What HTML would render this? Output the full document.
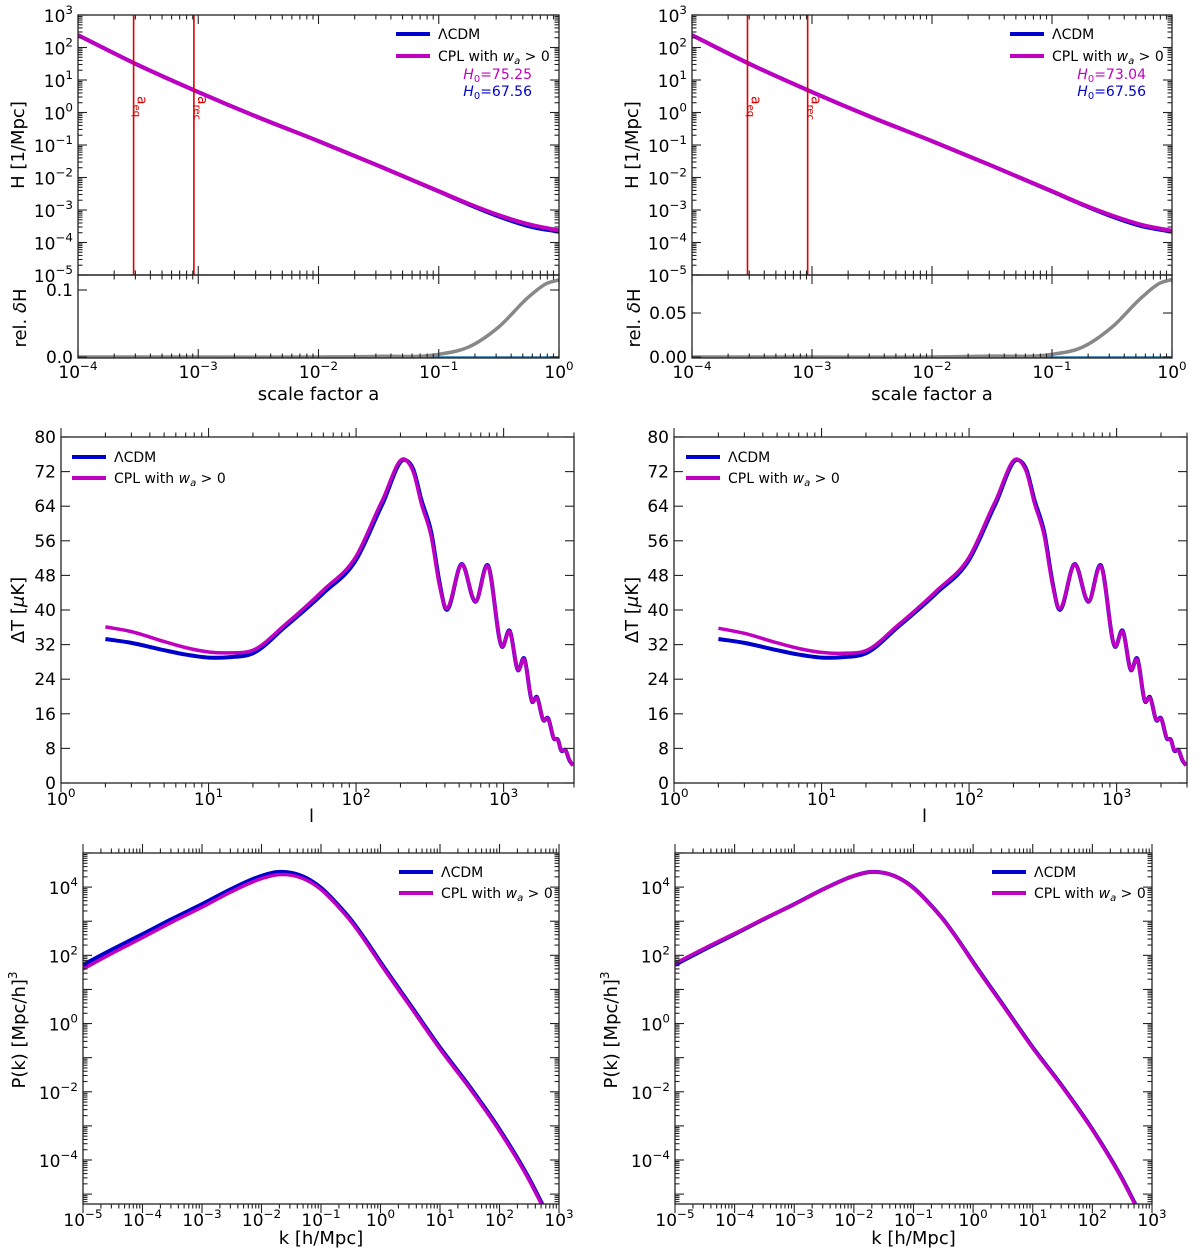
<!DOCTYPE html>
<html><head><meta charset="utf-8">
<style>
html,body{margin:0;padding:0;background:#fff;}
svg{display:block;font-family:"DejaVu Sans","Liberation Sans",sans-serif;}
</style></head>
<body>
<svg id="fig" width="1200" height="1256" viewBox="0 0 1200 1256" xmlns="http://www.w3.org/2000/svg"></svg>
<script>
// ---------- DATA ----------
const hLogA = [-4,-3.5,-3,-2.5,-2,-1.5,-1,-0.75,-0.5,-0.25,0];
const hLcdm = [2.38,1.46,0.63,-0.15,-0.88,-1.64,-2.43,-2.83,-3.2,-3.5,-3.67];
const hCplL = [2.38,1.46,0.63,-0.15,-0.88,-1.64,-2.42,-2.81,-3.16,-3.44,-3.63];
const hCplR = [2.38,1.46,0.63,-0.15,-0.88,-1.64,-2.42,-2.82,-3.17,-3.46,-3.64];
const dLogA = [-4,-3,-2,-1.5,-1,-0.75,-0.5,-0.25,-0.1,0];
const dHLeft = [0,0,0,0.001,0.004,0.015,0.045,0.09,0.11,0.115];
const dHRight = [0,0,0,0.001,0.003,0.011,0.034,0.068,0.084,0.088];
const aEq = 2.9e-4, aRec = 9.2e-4;
const h0Left = ["75.25","67.56"], h0Right = ["73.04","67.56"];
const ell = [2,3,5,7,10,14,20,33,60,100,150,215,245,277,324,365,398,525,645,783,975,1100,1250,1380,1560,1680,1860,2000,2190,2340,2450,2630,2790,2950];
const dtLcdm = [33.3,32.4,30.7,29.7,29.0,29.1,30.0,36.1,43.9,51.6,64.3,74.7,72.4,65.5,57.8,47.0,40.8,50.6,41.9,50.3,31.5,35.2,26.1,28.8,18.8,19.9,14.5,15.0,10.3,9.9,7.6,7.6,5.3,4.1];
const dtCplL = [36.1,35.0,32.7,31.3,30.3,30.1,30.7,36.6,44.6,52.4,65.2,74.8,71.8,64.6,56.8,46.2,40.9,50.5,42.0,50.1,31.6,35.0,26.2,28.6,18.9,19.7,14.6,14.9,10.4,9.8,7.7,7.5,5.4,4.0];
const dtCplR = [35.8,34.6,32.4,31.1,30.2,30.0,30.6,36.5,44.4,52.2,65.0,74.8,71.9,64.8,57.0,46.4,40.9,50.5,42.0,50.1,31.6,35.0,26.2,28.6,18.9,19.7,14.6,14.9,10.4,9.8,7.7,7.5,5.4,4.0];
const pLogK = [-5,-4.5,-4,-3.5,-3,-2.5,-2,-1.75,-1.5,-1.25,-1,-0.75,-0.5,-0.25,0,0.5,1,1.5,2,2.5,2.75];
const pLcdm = [1.72,2.18,2.62,3.07,3.5,3.95,4.33,4.44,4.42,4.27,3.98,3.55,3.05,2.45,1.8,0.55,-0.7,-1.85,-3.1,-4.55,-5.4];
const pCplL = [1.6,2.07,2.52,2.98,3.41,3.87,4.25,4.36,4.35,4.21,3.93,3.5,3.0,2.4,1.75,0.5,-0.75,-1.9,-3.15,-4.6,-5.45];
const pCplR = [1.76,2.21,2.64,3.08,3.5,3.95,4.33,4.44,4.42,4.27,3.97,3.54,3.04,2.44,1.78,0.53,-0.72,-1.87,-3.12,-4.57,-5.42];

// ---------- HELPERS ----------
const NS = "http://www.w3.org/2000/svg";
const svg = document.getElementById('fig');
function el(tag, attrs, parent){
  const e = document.createElementNS(NS, tag);
  for (const k in attrs) e.setAttribute(k, attrs[k]);
  (parent||svg).appendChild(e);
  return e;
}
function lin(d0,d1,p0,p1){ return v => p0 + (v-d0)/(d1-d0)*(p1-p0); }
function smoothPath(pts){
  const n = pts.length, m = [];
  for (let i=0;i<n;i++){
    if (i===0) m.push((pts[1][1]-pts[0][1])/(pts[1][0]-pts[0][0]));
    else if (i===n-1) m.push((pts[n-1][1]-pts[n-2][1])/(pts[n-1][0]-pts[n-2][0]));
    else {
      const h0=pts[i][0]-pts[i-1][0], h1=pts[i+1][0]-pts[i][0];
      const s0=(pts[i][1]-pts[i-1][1])/h0, s1=(pts[i+1][1]-pts[i][1])/h1;
      m.push((s0*h1+s1*h0)/(h0+h1));
    }
  }
  let d = "M"+pts[0][0].toFixed(2)+","+pts[0][1].toFixed(2);
  for (let i=0;i<n-1;i++){
    const h=(pts[i+1][0]-pts[i][0])/3;
    d += " C"+(pts[i][0]+h).toFixed(2)+","+(pts[i][1]+m[i]*h).toFixed(2)+" "+(pts[i+1][0]-h).toFixed(2)+","+(pts[i+1][1]-m[i+1]*h).toFixed(2)+" "+pts[i+1][0].toFixed(2)+","+pts[i+1][1].toFixed(2);
  }
  return d;
}
function powLabel(x, y, exp, anchor, g, size){
  const t = el('text', {x:x, y:y, 'font-size':size||17, 'text-anchor':anchor, fill:'#000'}, g);
  
  
  const a = el('tspan', {}, t); a.textContent = "10";
  const b = el('tspan', {dy:-8, 'font-size':(size||17)*0.7}, t);
  b.textContent = exp < 0 ? "\u2212"+(-exp) : String(exp);
  return t;
}
function plainLabel(x,y,txt,anchor,g,size){
  const t = el('text', {x:x, y:y, 'font-size':size||17, 'text-anchor':anchor, fill:'#000'}, g);
  
  
  t.textContent = txt; return t;
}
function frame(g, x0,y0,x1,y1){
  const r = el('rect', {x:x0, y:y0, width:x1-x0, height:y1-y0, fill:'none', stroke:'#222', 'stroke-width':1.3}, g);
  
  
}
function tick(g, x1,y1,x2,y2){ el('line',{x1:x1,y1:y1,x2:x2,y2:y2,stroke:'#222','stroke-width':1.1},g); }
function logXTicks(g, sx, lmin, lmax, y0, y1, labelY, labelEvery, labels){
  for (let d=Math.floor(lmin); d<=Math.ceil(lmax); d++){
    for (let m=1;m<10;m++){
      const l = d+Math.log10(m);
      if (l<lmin-1e-9 || l>lmax+1e-9) continue;
      const x = sx(l), L = m===1?9:4.5;
      tick(g,x,y0,x,y0+L); tick(g,x,y1,x,y1-L);
      if (m===1 && labels && ((d-Math.round(lmin))%labelEvery===0)) powLabel(x, labelY, d, 'middle', g);
    }
  }
}
function logYTicks(g, sy, lmin, lmax, x0, x1, labelEvery){
  for (let d=Math.floor(lmin); d<=Math.ceil(lmax); d++){
    for (let m=1;m<10;m++){
      const l = d+Math.log10(m);
      if (l<lmin-1e-9 || l>lmax+1e-9) continue;
      const y = sy(l), L = m===1?9:4.5;
      tick(g,x0,y,x0+L,y); tick(g,x1,y,x1-L,y);
      if (m===1 && d%labelEvery===0) powLabel(x0-5, y+7, d, 'end', g);
    }
  }
}
function axisTitle(x,y,txt,rot,g,name){
  const t = el('text',{x:x,y:y,'font-size':18,'text-anchor':'middle',fill:'#000',transform: rot?('rotate(-90 '+x+' '+y+')'):''},g);
  
  
  t.innerHTML = txt;
  return t;
}
function legend(g, x, y1, y2){
  const l1 = el('line',{x1:x,y1:y1,x2:x+34,y2:y1,stroke:'#0000cc','stroke-width':4},g);
  
  
  const t1 = el('text',{x:x+42,y:y1+5,'font-size':14,fill:'#000'},g);
  
  
  t1.textContent = "\u039BCDM";
  const l2 = el('line',{x1:x,y1:y2,x2:x+34,y2:y2,stroke:'#c000c0','stroke-width':4},g);
  
  
  const t2 = el('text',{x:x+42,y:y2+5,'font-size':14,fill:'#000'},g);
  
  
  t2.innerHTML = 'CPL with <tspan font-style="italic">w</tspan><tspan font-size="10" dy="3" font-style="italic">a</tspan><tspan dy="-3"> &gt; 0</tspan>';
}
function curve(g, xs, ys, sx, sy, color, w, name, clipId){
  const pts = xs.map((v,i)=>[sx(v), sy(ys[i])]);
  const p = el('path',{d:smoothPath(pts),fill:'none',stroke:color,'stroke-width':w,'stroke-linejoin':'round','clip-path':'url(#'+clipId+')'},g);
  
  
  return p;
}
function clip(id,x0,y0,x1,y1){
  const c = el('clipPath',{id:id}); el('rect',{x:x0,y:y0,width:x1-x0,height:y1-y0},c);
}

// ---------- TOP: H(a) ----------
function hPanel(off, side, cpl, dH, dmax, dticks, h0){
  const g = el('g',{});  
  const x0=78+off, x1=559+off+(side==='right'?-1:0), yT=15, yM=275, yB=358;
  const sx = lin(-4,0,x0,x1), sy = lin(3,-5,yT,yM);
  clip('ch'+side,x0,yT,x1,yM); clip('cd'+side,x0,yM,x1,yB);
  curve(g,hLogA,hLcdm,sx,sy,'#0000cc',4,'lcdm-hubble-line','ch'+side);
  curve(g,hLogA,cpl,sx,sy,'#c000c0',4,'cpl-hubble-line','ch'+side);
  [[aEq,'a<tspan font-size="10" dy="4">eq</tspan>','a-eq-line'],[aRec,'a<tspan font-size="10" dy="4">rec</tspan>','a-rec-line']].forEach(r=>{
    const x = sx(Math.log10(r[0]));
    const ln = el('line',{x1:x,y1:yT,x2:x,y2:yM,stroke:'#dd0000','stroke-width':1.6},g);
     
    const t = el('text',{x:x+4,y:96,'font-size':14,fill:'#dd0000',transform:'rotate(90 '+(x+4)+' 96)'},g);
     
    t.innerHTML = r[1];
  });
  frame(g,x0,yT,x1,yM);
  logXTicks(g,sx,-4,0,yT,yM,0,1,false);
  logYTicks(g,sy,-5,3,x0,x1,1);
  const sd = lin(dmax[0],dmax[1],yB,yM);
  const z = el('line',{x1:x0,y1:sd(0),x2:x1,y2:sd(0),stroke:'#1f77b4','stroke-width':1.5},g);
   
  curve(g,dLogA,dH,sx,sd,'#888888',3.5,'relative-delta-h-line','cd'+side);
  frame(g,x0,yM,x1,yB);
  logXTicks(g,sx,-4,0,yM,yB,yB+20,1,true);
  dticks.forEach(v=>{ const y=sd(v); tick(g,x0,y,x0+9,y); tick(g,x1,y,x1-9,y); plainLabel(x0-5,y+6,v===0?(dticks[1]<0.1?'0.00':'0.0'):String(v),'end',g); });
  axisTitle(24+off,145,'H [1/Mpc]',true,g,'y-axis-title');
  axisTitle(26+off,318,'rel. <tspan font-style="italic">δ</tspan>H',true,g,'residual-axis-title');
  axisTitle((x0+x1)/2,400,'scale factor a',false,g,'x-axis-title');
  legend(g,396+off,34,56);
  const a1 = el('text',{x:532+off,y:79,'font-size':14,'text-anchor':'end',fill:'#c000c0'},g);
   
  a1.innerHTML='<tspan font-style="italic">H</tspan><tspan font-size="10" dy="3">0</tspan><tspan dy="-3">='+h0[0]+'</tspan>';
  const a2 = el('text',{x:532+off,y:96,'font-size':14,'text-anchor':'end',fill:'#0000cc'},g);
   
  a2.innerHTML='<tspan font-style="italic">H</tspan><tspan font-size="10" dy="3">0</tspan><tspan dy="-3">='+h0[1]+'</tspan>';
}
hPanel(0,'left',hCplL,dHLeft,[-0.0015,0.1224],[0,0.1],h0Left);
hPanel(614,'right',hCplR,dHRight,[-0.0011,0.0932],[0,0.05],h0Right);

// ---------- MIDDLE: CMB ----------
function cmbPanel(off, side, cpl){
  const g = el('g',{});  
  const x0=61+off+(side==='right'?-1:0), x1=x0+513, yT=437, yB=783;
  const sx = lin(0,Math.log10(3000),x0,x1), sy = lin(0,80,yB,yT);
  clip('cc'+side,x0,yT,x1,yB);
  const lx = ell.map(v=>Math.log10(v));
  curve(g,lx,dtLcdm,sx,sy,'#0000cc',4,'lcdm-cmb-line','cc'+side);
  curve(g,lx,cpl,sx,sy,'#c000c0',3.5,'cpl-cmb-line','cc'+side);
  frame(g,x0,yT,x1,yB);
  logXTicks(g,sx,0,Math.log10(3000),yB,yT,yB+22,1,true);
  for (let v=0; v<=80; v+=8){ const y=sy(v); tick(g,x0,y,x0+9,y); tick(g,x1,y,x1-9,y); plainLabel(x0-5,y+6,String(v),'end',g); }
  axisTitle(24+off,610,'ΔT [<tspan font-style="italic">μ</tspan>K]',true,g,'y-axis-title');
  axisTitle((x0+x1)/2-6,822,'l',false,g,'x-axis-title');
  legend(g,72+off,457,478);
}
cmbPanel(0,'left',dtCplL);
cmbPanel(614,'right',dtCplR);

// ---------- BOTTOM: P(k) ----------
function pkPanel(off, side, cpl){
  const g = el('g',{});  
  const x0=83+off+(side==='right'?-22:0), x1=559+off+(side==='right'?-21:0), yT=853, yB=1204;
  const sx = lin(-5,3,x0,x1), sy = lin(5,-5.29,yT,yB);
  clip('cp'+side,x0,yT,x1,yB);
  curve(g,pLogK,pLcdm,sx,sy,'#0000cc',4,'lcdm-power-line','cp'+side);
  curve(g,pLogK,cpl,sx,sy,'#c000c0',3.5,'cpl-power-line','cp'+side);
  frame(g,x0,yT,x1,yB);
  logXTicks(g,sx,-5,3,yB,yT,yB+22,1,true);
  logYTicks(g,sy,-5.29,5,x0,x1,2);
  axisTitle(x0-58,1030,'P(k) [Mpc/h]<tspan font-size="12" dy="-8">3</tspan>',true,g,'y-axis-title');
  axisTitle((x0+x1)/2,1244,'k [h/Mpc]',false,g,'x-axis-title');
  legend(g,x1-160,872,893);
}
pkPanel(0,'left',pCplL);
pkPanel(614,'right',pCplR);
</script>
</body></html>
